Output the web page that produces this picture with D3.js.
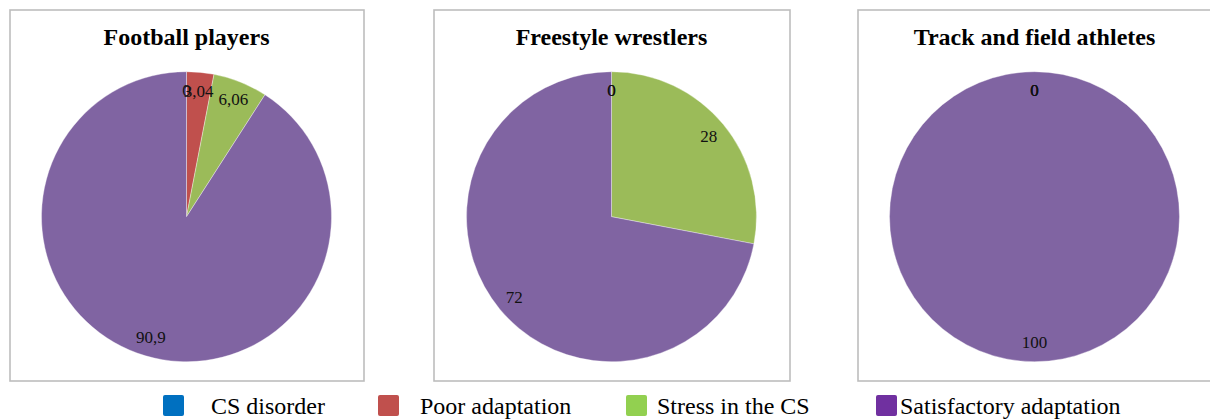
<!DOCTYPE html>
<html>
<head>
<meta charset="utf-8">
<script src="https://cdn.jsdelivr.net/npm/d3@7"></script>
<style>
  html, body { margin: 0; padding: 0; background: #fff; }
  svg { display: block; }
</style>
</head>
<body>
<svg id="chart" width="1210" height="419"></svg>
<script>
// Adaptation categories (legend order = slice order, clockwise from 12 o'clock)
const categories = ["CS disorder", "Poor adaptation", "Stress in the CS", "Satisfactory adaptation"];

// Share of each group (%) per category
const groups = ["Football players", "Freestyle wrestlers", "Track and field athletes"];
const footballValues = [0, 3.04, 6.06, 90.9];
const wrestlerValues = [0, 0, 28, 72];
const trackValues = [0, 0, 0, 100];

const sliceColors = ["#4F81BD", "#C0504D", "#9BBB59", "#8064A2"];
const legendColors = ["#0070C0", "#C0504D", "#92D050", "#7030A0"];

const panels = [
  { title: groups[0], values: footballValues, x0: 10, x1: 364 },
  { title: groups[1], values: wrestlerValues, x0: 434, x1: 790 },
  { title: groups[2], values: trackValues, x0: 858, x1: 1212 }
];

const svg = d3.select("#chart");
const serif = "'Liberation Serif', 'Times New Roman', serif";

// Decimal comma for the value labels
const locale = d3.formatLocale({ decimal: ",", thousands: " ", grouping: [3], currency: ["", ""] });
const fmt = locale.format("~f");

const radius = 145;
const frameTop = 10, frameBottom = 381;
const cy = 216.7;

const pie = d3.pie().sort(null).value(d => d.value).startAngle(0).endAngle(2 * Math.PI);
const arc = d3.arc().innerRadius(0).outerRadius(radius);
const labelArc = d3.arc().innerRadius(radius * 0.87).outerRadius(radius * 0.87);

panels.forEach(p => {
  const cx = (p.x0 + p.x1) / 2 - 0.5;
  const g = svg.append("g");

  // panel frame
  g.append("rect")
    .attr("x", p.x0).attr("y", frameTop)
    .attr("width", p.x1 - p.x0).attr("height", frameBottom - frameTop)
    .attr("fill", "#fff")
    .attr("stroke", "#BDBDBD")
    .attr("stroke-width", 1.6);

  g.append("text")
    .attr("x", cx).attr("y", 45)
    .attr("text-anchor", "middle")
    .attr("font-family", serif)
    .attr("font-weight", "bold")
    .attr("font-size", 24)
    .attr("fill", "#000")
    .text(p.title);

  const data = pie(p.values.map((v, i) => ({ value: v, cat: categories[i], i })));
  const pg = g.append("g").attr("transform", `translate(${cx},${cy})`);

  pg.selectAll("path")
    .data(data)
    .join("path")
    .attr("d", arc)
    .attr("fill", d => sliceColors[d.data.i])
    .attr("stroke", "rgba(255,255,255,0.45)")
    .attr("stroke-width", d => d.data.value > 0 ? 0.8 : 0);

  pg.selectAll("text")
    .data(data)
    .join("text")
    .attr("transform", d => `translate(${labelArc.centroid(d)})`)
    .attr("text-anchor", "middle")
    .attr("dominant-baseline", "central")
    .attr("font-family", serif)
    .attr("font-size", 17)
    .attr("fill", "#111")
    .text(d => fmt(d.data.value));
});

// Legend
const legendItems = [
  { sq: 163, tx: 211 },
  { sq: 378, tx: 420 },
  { sq: 626, tx: 657 },
  { sq: 876, tx: 900 }
];
const lg = svg.append("g");
categories.forEach((c, i) => {
  lg.append("rect")
    .attr("x", legendItems[i].sq).attr("y", 395)
    .attr("width", 21).attr("height", 21)
    .attr("rx", 2)
    .attr("fill", legendColors[i]);
  lg.append("text")
    .attr("x", legendItems[i].tx).attr("y", 414)
    .attr("font-family", serif)
    .attr("font-size", 24)
    .attr("fill", "#000")
    .text(c);
});
</script>
</body>
</html>
